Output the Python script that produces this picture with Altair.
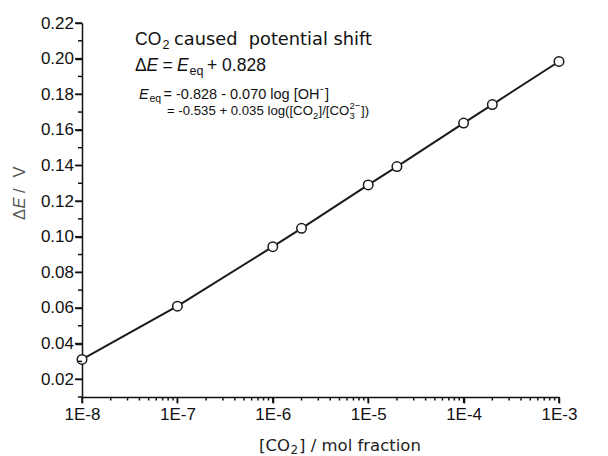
import altair as alt
import pandas as pd

# ---- data ----
co2_fraction = [1e-8, 1e-7, 1e-6, 2e-6, 1e-5, 2e-5, 1e-4, 2e-4, 1e-3]
delta_e = [0.0311, 0.0610, 0.0944, 0.1047, 0.1291, 0.1394, 0.1638, 0.1742, 0.1984]

decade_exponents = [-8, -7, -6, -5, -4, -3]
minor_multipliers = [2, 3, 4, 5, 6, 7, 8, 9]
y_major_ticks = [0.02, 0.04, 0.06, 0.08, 0.10, 0.12, 0.14, 0.16, 0.18, 0.20, 0.22]
y_minor_ticks = [0.01, 0.03, 0.05, 0.07, 0.09, 0.11, 0.13, 0.15, 0.17, 0.19, 0.21]

df = pd.DataFrame({"x": co2_fraction, "y": delta_e})

x_major_ticks = [10.0 ** e for e in decade_exponents]
x_minor_ticks = [m * 10.0 ** e for e in decade_exponents[:-1] for m in minor_multipliers]

FONT = "Liberation Sans"
WIDE = "DejaVu Sans"
INK = "#111111"
OX, OY = 82, 23  # plot origin on the page
W, H = 477, 374

x_axis = alt.Axis(
    values=x_major_ticks,
    labelExpr="'1E' + round(log(datum.value)/LN10)",
    tickSize=6, labelPadding=3, labelOverlap=False, labelFlush=False, grid=False, title=None,
    domainColor=INK, domainWidth=1.5, tickColor=INK, tickWidth=1.5,
    labelFont=FONT, labelFontSize=17, labelColor=INK,
)
y_axis = alt.Axis(
    values=y_major_ticks, format=".2f",
    tickSize=7, labelPadding=1.5, labelOverlap=False, labelFlush=False, labelBound=False,
    grid=False, title=None,
    domainColor=INK, domainWidth=1.5, tickColor=INK, tickWidth=1.5,
    labelFont=FONT, labelFontSize=17, labelColor=INK,
)

x_scale = alt.Scale(type="log", domain=[1e-8, 1e-3], nice=False)
y_scale = alt.Scale(domain=[0.01, 0.22], nice=False, zero=False)
x_enc = alt.X("x:Q", scale=x_scale, axis=x_axis)
y_enc = alt.Y("y:Q", scale=y_scale, axis=y_axis)

base = alt.Chart(df)
line = base.mark_line(color="#1a1a1a", strokeWidth=2).encode(x=x_enc, y=y_enc)
pts = base.mark_point(filled=True, fill="white", stroke="#1a1a1a", strokeWidth=1.5,
                      size=90, opacity=1).encode(x=x_enc, y=y_enc)


# tick marks drawn through the same scales (same axis definitions so axes merge)
def x_ticks_layer(values, length):
    return alt.Chart(pd.DataFrame({"x": values})).mark_rule(
        color=INK, strokeWidth=1.5).encode(
        x=alt.X("x:Q", scale=x_scale, axis=x_axis), y=alt.value(H), y2=alt.value(H + length))


def y_ticks_layer(values, length):
    return alt.Chart(pd.DataFrame({"y": values})).mark_rule(
        color=INK, strokeWidth=1.5).encode(
        y=alt.Y("y:Q", scale=y_scale, axis=y_axis), x=alt.value(0), x2=alt.value(-length))


tick_layers = [
    x_ticks_layer(x_minor_ticks, 3.5), x_ticks_layer(x_major_ticks, 6),
    y_ticks_layer(y_minor_ticks, 4), y_ticks_layer(y_major_ticks, 7),
]


def seg(text, px, py, size, italic=False, color=INK, angle=0, font=FONT):
    kw = dict(text=text, align="left", baseline="alphabetic", font=font,
              fontSize=size, color=color)
    if italic:
        kw["fontStyle"] = "italic"
    if angle:
        kw["angle"] = angle
    return alt.Chart(alt.Data(values=[{}])).mark_text(**kw).encode(
        x=alt.value(px - OX), y=alt.value(py - OY))


# annotation texts
line1 = ["CO", "2", "caused\u00a0\u00a0potential shift"]
line2 = ["\u0394", "E", "=", "E", "eq", "+ 0.828"]
line3 = ["E", "eq", "= -0.828 - 0.070 log [OH", "-", "]"]
line4 = ["= -0.535 + 0.035 log([CO", "2", "]/[CO", "3", "2\u2212", "])"]
xtitle = ["[CO", "2", "] / mol fraction"]
ytitle = ["\u0394", "E", "/", "V"]

anno = [
    seg(line1[0], 135, 44.5, 17.5), seg(line1[1], 162.5, 49, 12.5),
    seg(line1[2], 174, 44.5, 17.8, font=WIDE),
    seg(line2[0], 135, 71, 17.5), seg(line2[1], 146.5, 71, 17.5, italic=True),
    seg(line2[2], 162.5, 71, 17.5), seg(line2[3], 177, 71, 17.5, italic=True),
    seg(line2[4], 189.5, 75, 12.5), seg(line2[5], 207, 71, 17.5),
    seg(line3[0], 139, 98.5, 14.5, italic=True), seg(line3[1], 149.5, 102, 10.5),
    seg(line3[2], 163.5, 98.5, 14.5), seg(line3[3], 320, 92, 10),
    seg(line3[4], 325, 98.5, 14.5),
    seg(line4[0], 167, 115, 13.2), seg(line4[1], 313, 118.5, 9.5),
    seg(line4[2], 318.5, 115, 13.2), seg(line4[3], 349.5, 118.5, 9.5),
    seg(line4[4], 349.5, 109, 9.5), seg(line4[5], 361, 115, 13.2),
    seg(xtitle[0], 259, 450.5, 16.5, color="#222222", font=WIDE),
    seg(xtitle[1], 290.5, 454, 12, color="#222222", font=WIDE),
    seg(xtitle[2], 299, 450.5, 16.5, color="#222222", font=WIDE),
    seg(ytitle[0], 25, 220, 16.5, color="#555555", angle=270),
    seg(ytitle[1], 25, 208.5, 16.5, italic=True, color="#555555", angle=270),
    seg(ytitle[2], 25, 193, 16.5, color="#555555", angle=270),
    seg(ytitle[3], 25, 177.5, 16.5, color="#555555", angle=270),
]

chart = alt.layer(line, pts, *tick_layers, *anno).properties(
    width=W, height=H,
    autosize=alt.AutoSizeParams(type="none"),
    padding={"left": OX, "top": OY, "right": 608 - OX - W, "bottom": 456 - OY - H},
    background="white",
).configure_view(stroke=None)

chart.save("out.html", embed_options={"renderer": "svg", "actions": False})
